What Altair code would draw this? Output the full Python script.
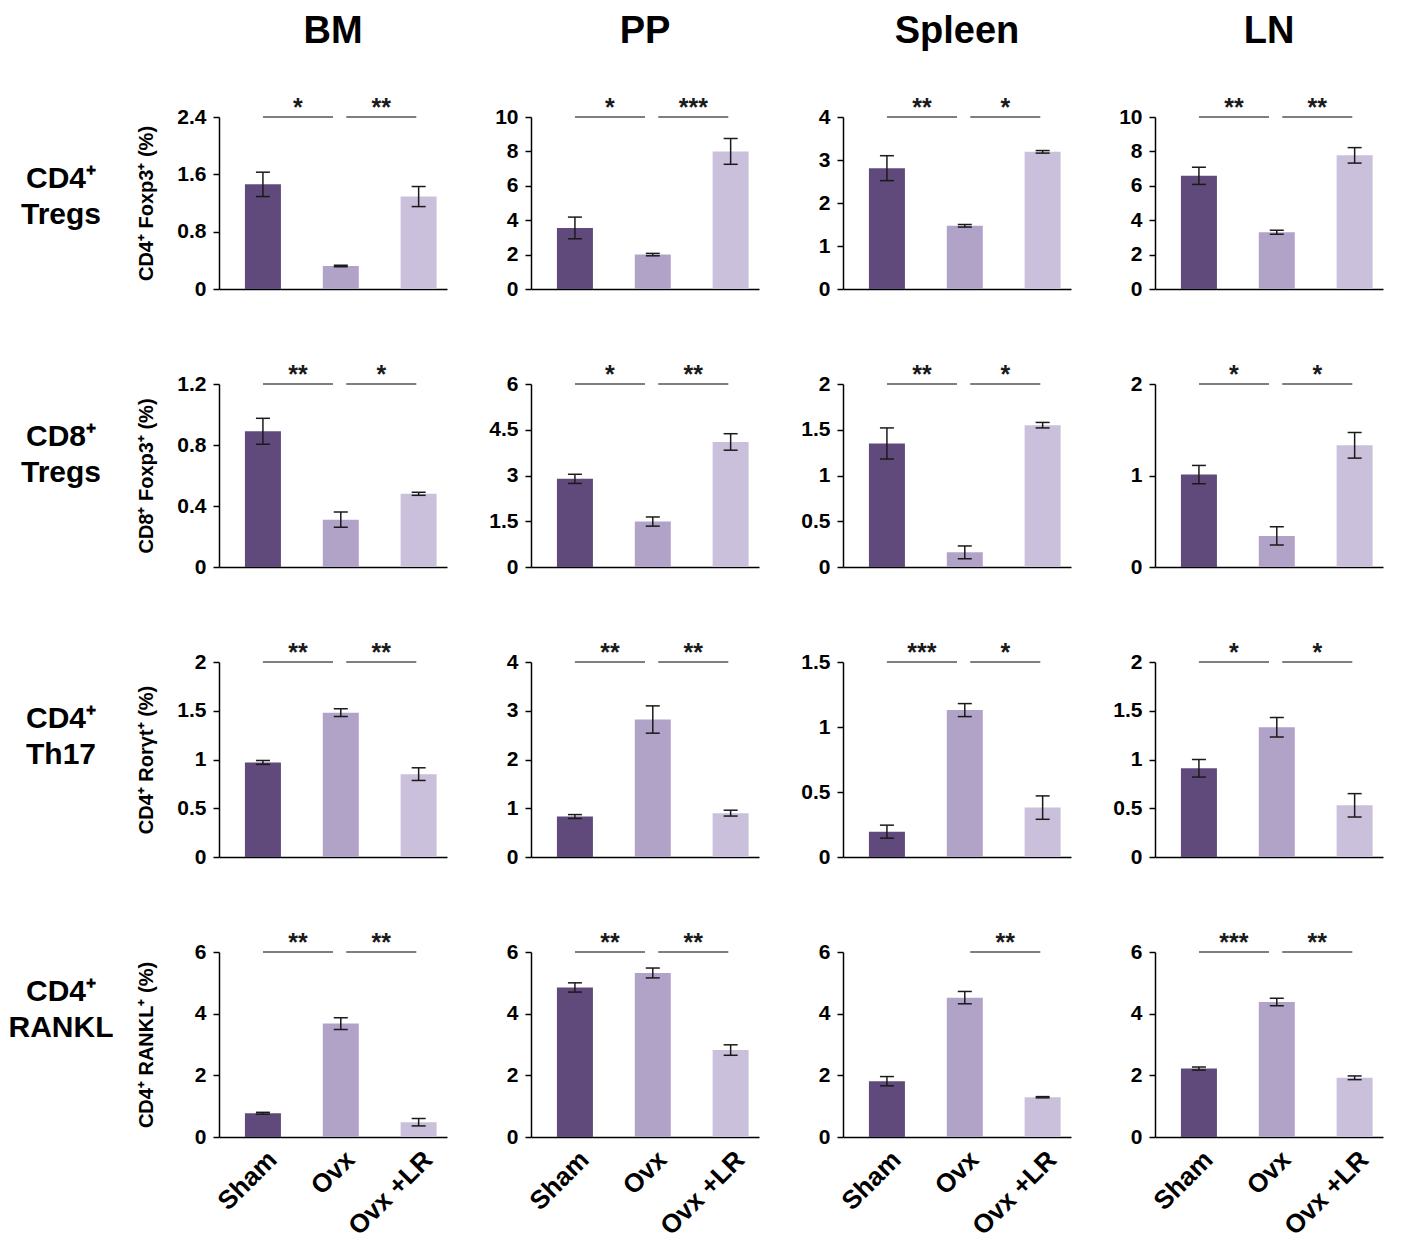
import altair as alt
import pandas as pd

FONT = "Liberation Sans"

groups = ["Sham", "Ovx", "Ovx +LR"]
tissues = ["BM", "PP", "Spleen", "LN"]
row_labels = ["CD4⁺\nTregs", "CD8⁺\nTregs", "CD4⁺\nTh17", "CD4⁺\nRANKL"]
y_titles = ["CD4⁺ Foxp3⁺ (%)", "CD8⁺ Foxp3⁺ (%)", "CD4⁺ Rorγt⁺ (%)", "CD4⁺ RANKL⁺ (%)"]
colors = ["#5f4a7b", "#b1a2c8", "#cac0dc"]

# means[row][tissue] -> [Sham, Ovx, Ovx+LR]
means = [
    [[1.46, 0.32, 1.29], [3.55, 2.0, 8.0], [2.81, 1.47, 3.19], [6.58, 3.3, 7.77]],
    [[0.89, 0.31, 0.48], [2.89, 1.49, 4.1], [1.35, 0.16, 1.55], [1.01, 0.34, 1.33]],
    [[0.97, 1.48, 0.85], [0.83, 2.82, 0.9], [0.195, 1.13, 0.38], [0.91, 1.33, 0.53]],
    [[0.77, 3.68, 0.48], [4.85, 5.32, 2.82], [1.81, 4.52, 1.29], [2.22, 4.38, 1.92]],
]
errs = [
    [[0.17, 0.01, 0.14], [0.63, 0.07, 0.75], [0.29, 0.03, 0.03], [0.5, 0.12, 0.45]],
    [[0.085, 0.05, 0.01], [0.15, 0.15, 0.27], [0.17, 0.07, 0.03], [0.1, 0.1, 0.14]],
    [[0.02, 0.04, 0.065], [0.04, 0.28, 0.06], [0.05, 0.05, 0.09], [0.09, 0.1, 0.12]],
    [[0.03, 0.19, 0.12], [0.15, 0.16, 0.17], [0.15, 0.2, 0.02], [0.05, 0.12, 0.06]],
]
y_ticks = [
    [[0, 0.8, 1.6, 2.4], [0, 2, 4, 6, 8, 10], [0, 1, 2, 3, 4], [0, 2, 4, 6, 8, 10]],
    [[0, 0.4, 0.8, 1.2], [0, 1.5, 3, 4.5, 6], [0, 0.5, 1, 1.5, 2], [0, 1, 2]],
    [[0, 0.5, 1, 1.5, 2], [0, 1, 2, 3, 4], [0, 0.5, 1, 1.5], [0, 0.5, 1, 1.5, 2]],
    [[0, 2, 4, 6], [0, 2, 4, 6], [0, 2, 4, 6], [0, 2, 4, 6]],
]
stars = [
    [["*", "**"], ["*", "***"], ["**", "*"], ["**", "**"]],
    [["**", "*"], ["*", "**"], ["**", "*"], ["*", "*"]],
    [["**", "**"], ["**", "**"], ["***", "*"], ["*", "*"]],
    [["**", "**"], ["**", "**"], ["", "**"], ["***", "**"]],
]
bracket_start = [0.0, 1.07]
bracket_end = [0.9, 1.97]

W = 228
H = [172, 183, 195, 185]
LABEL_W = 126
LABEL_DY = [-24, -39, -41, -53]

label_expr = "[" + ",".join("'" + g + "'" for g in groups) + "][datum.value]"


def panel(r, c):
    m = means[r][c]
    e = errs[r][c]
    ticks = y_ticks[r][c]
    top = max(ticks)
    df = pd.DataFrame({
        "pos": [0, 1, 2],
        "group": groups,
        "mean": m,
        "lo": [a - b for a, b in zip(m, e)],
        "hi": [a + b for a, b in zip(m, e)],
    })
    br = pd.DataFrame({
        "x1": bracket_start,
        "x2": bracket_end,
        "xm": [(a + b) / 2 for a, b in zip(bracket_start, bracket_end)],
        "y": [top, top],
        "label": stars[r][c],
    })
    br = br[br["label"] != ""]
    last = r == 3
    xscale = alt.Scale(domain=[-0.5, 2.3], nice=False, zero=False)
    yscale = alt.Scale(domain=[0, top], nice=False)
    xaxis = alt.Axis(
        values=[0, 1, 2], labelExpr=label_expr, labels=last, ticks=False,
        grid=False, title=None, domainColor="black", domainWidth=1.5,
        labelAngle=-45, labelAlign="right", labelBaseline="top",
        labelFontSize=26, labelFontWeight="bold", labelPadding=9, labelOffset=0,
        labelColor="black", labelFont=FONT, labelOverlap=False, tickCount=3,
    )
    yaxis_kw = dict(
        values=ticks, tickCount=len(ticks), labelExpr="'' + datum.value", grid=False,
        domainColor="black", domainWidth=1.5, tickColor="black", tickWidth=1.5,
        tickSize=6, labelFontSize=21, labelFontWeight="bold", labelColor="black",
        labelFont=FONT, labelPadding=7, labelOverlap=False,
    )
    if c == 0:
        yaxis = alt.Axis(title=y_titles[r], titleFontSize=20, titleFontWeight="bold",
                         titleFont=FONT, titleColor="black", titleX=-73,
                         titleBaseline="middle", titleAngle=-90, **yaxis_kw)
    else:
        yaxis = alt.Axis(title=None, **yaxis_kw)

    bars = alt.Chart(df).mark_bar(size=36, orient="vertical").encode(
        x=alt.X("pos:Q", scale=xscale, axis=xaxis),
        y=alt.Y("mean:Q", scale=yscale, axis=yaxis, stack=None),
        color=alt.Color("group:N", scale=alt.Scale(domain=groups, range=colors), legend=None),
    )
    err = alt.Chart(df).mark_rule(color="#1a1a1a", strokeWidth=1.5).encode(
        x="pos:Q", y="lo:Q", y2="hi:Q")
    cap_hi = alt.Chart(df).mark_tick(orient="horizontal", size=14, thickness=1.5,
                                      color="#1a1a1a", opacity=1).encode(x="pos:Q", y="hi:Q")
    cap_lo = alt.Chart(df).mark_tick(orient="horizontal", size=14, thickness=1.5,
                                      color="#1a1a1a", opacity=1).encode(x="pos:Q", y="lo:Q")
    brk = alt.Chart(br).mark_rule(color="#555555", strokeWidth=1.5).encode(
        x="x1:Q", x2="x2:Q", y="y:Q")
    txt = alt.Chart(br).mark_text(baseline="alphabetic", dy=-1, fontSize=25,
                                  fontWeight="bold", font=FONT, color="#1a1a1a").encode(
        x="xm:Q", y="y:Q", text="label:N")
    ch = alt.layer(bars, err, cap_hi, cap_lo, brk, txt).properties(width=W, height=H[r])
    if r == 0:
        ch = ch.properties(title=alt.TitleParams(
            tissues[c], fontSize=38, fontWeight="bold", font=FONT, color="black",
            anchor="middle", frame="group", offset=45))
    return ch


def row_label(r):
    df = pd.DataFrame({"t": [row_labels[r]]})
    return alt.Chart(df).mark_text(
        lineBreak="\n", fontSize=30, fontWeight="bold", font=FONT, color="black",
        align="center", baseline="middle", lineHeight=36,
    ).encode(x=alt.value(52), y=alt.value(H[r] / 2 + LABEL_DY[r]), text="t:N").properties(
        width=LABEL_W, height=H[r])


charts = []
for r in range(4):
    charts.append(row_label(r))
    for c in range(4):
        charts.append(panel(r, c))

chart = alt.concat(*charts, columns=5, spacing={"row": 95, "column": 84},
                   bounds="flush", align="each").properties(
    padding={"left": 0, "top": 5, "right": 5, "bottom": 5}).configure(
    font=FONT, view=alt.ViewConfig(stroke=None))

chart.save("out.html", embed_options={"renderer": "svg", "actions": False})
